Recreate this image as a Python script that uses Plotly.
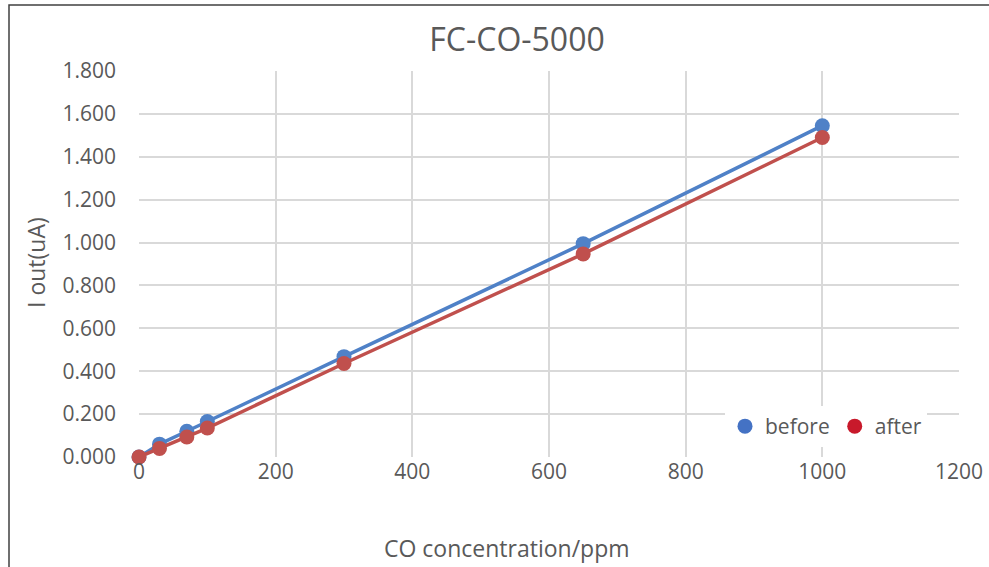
import plotly.graph_objects as go

concentration = [0, 30, 70, 100, 300, 650, 1000]
before = [0, 0.060, 0.120, 0.165, 0.468, 0.995, 1.545]
after = [0, 0.040, 0.093, 0.135, 0.436, 0.947, 1.490]
x_ticks = [0, 200, 400, 600, 800, 1000, 1200]
y_ticks = [0, 0.2, 0.4, 0.6, 0.8, 1.0, 1.2, 1.4, 1.6, 1.8]

FONT = "Open Sans"
TXT = "#595959"

W, H = 989, 567
L, T = 139, 71
R, B = W - 959, H - 457
PW, PH = W - L - R, H - T - B


def px(x):
    return (x - L) / PW


def py(y):
    return (H - B - y) / PH


fig = go.Figure()
fig.add_trace(go.Scatter(x=concentration, y=before, mode="lines+markers", name="before",
                         line=dict(color="#4F81C7", width=3.5), cliponaxis=False,
                         marker=dict(color="#4F81C7", size=15), showlegend=False))
fig.add_trace(go.Scatter(x=concentration, y=after, mode="lines+markers", name="after",
                         line=dict(color="#C0504D", width=3.5), cliponaxis=False,
                         marker=dict(color="#C0504D", size=15), showlegend=False))
# legend entries
fig.add_trace(go.Scatter(x=[None], y=[None], mode="markers", name="before",
                         marker=dict(color="#4472C4", size=15)))
fig.add_trace(go.Scatter(x=[None], y=[None], mode="markers", name="after",
                         marker=dict(color="#C8192B", size=15)))

fig.update_layout(
    width=W, height=H,
    margin=dict(l=L, r=R, t=T, b=B, autoexpand=False),
    paper_bgcolor="white", plot_bgcolor="white",
    font=dict(family=FONT, color=TXT, size=21),
    title=dict(text="FC-CO-5000", x=517 / W, xanchor="center",
               y=1 - 40 / H, yanchor="middle",
               font=dict(size=32, color=TXT, family=FONT)),
    xaxis=dict(range=[0, 1200], tickvals=x_ticks, showgrid=True, gridcolor="#D9D9D9",
               gridwidth=1.5, zeroline=False, showline=False, ticks="", automargin=False,
               ticklabelstandoff=0, tickfont=dict(size=21)),
    yaxis=dict(range=[0, 1.8], tickvals=y_ticks, tickformat=".3f", showgrid=True,
               gridcolor="#D9D9D9", gridwidth=1.5, zeroline=False, showline=False, ticks="",
               automargin=False, ticklabelstandoff=22, tickfont=dict(size=21)),
    legend=dict(orientation="h", x=px(725), y=py(406), xanchor="left",
                yanchor="top", bgcolor="white", font=dict(size=21), itemwidth=30,
                borderwidth=0, tracegroupgap=0),
    showlegend=True,
)
fig.add_annotation(text="CO concentration/ppm", xref="paper", yref="paper",
                   x=px(507), y=py(548), showarrow=False,
                   font=dict(size=23, color=TXT, family=FONT), xanchor="center", yanchor="middle")
fig.add_annotation(text="I out(uA)", xref="paper", yref="paper",
                   x=px(36), y=py(263), showarrow=False, textangle=-90,
                   font=dict(size=23, color=TXT, family=FONT), xanchor="center", yanchor="middle")
# chart border
fig.add_shape(type="rect", xref="paper", yref="paper",
              x0=px(9), x1=1.2, y0=-0.5, y1=py(5),
              line=dict(color="#404040", width=1.5), layer="below")

fig.write_html("out.html", config={"displayModeBar": False},
               post_script="document.body.style.margin='0';")
